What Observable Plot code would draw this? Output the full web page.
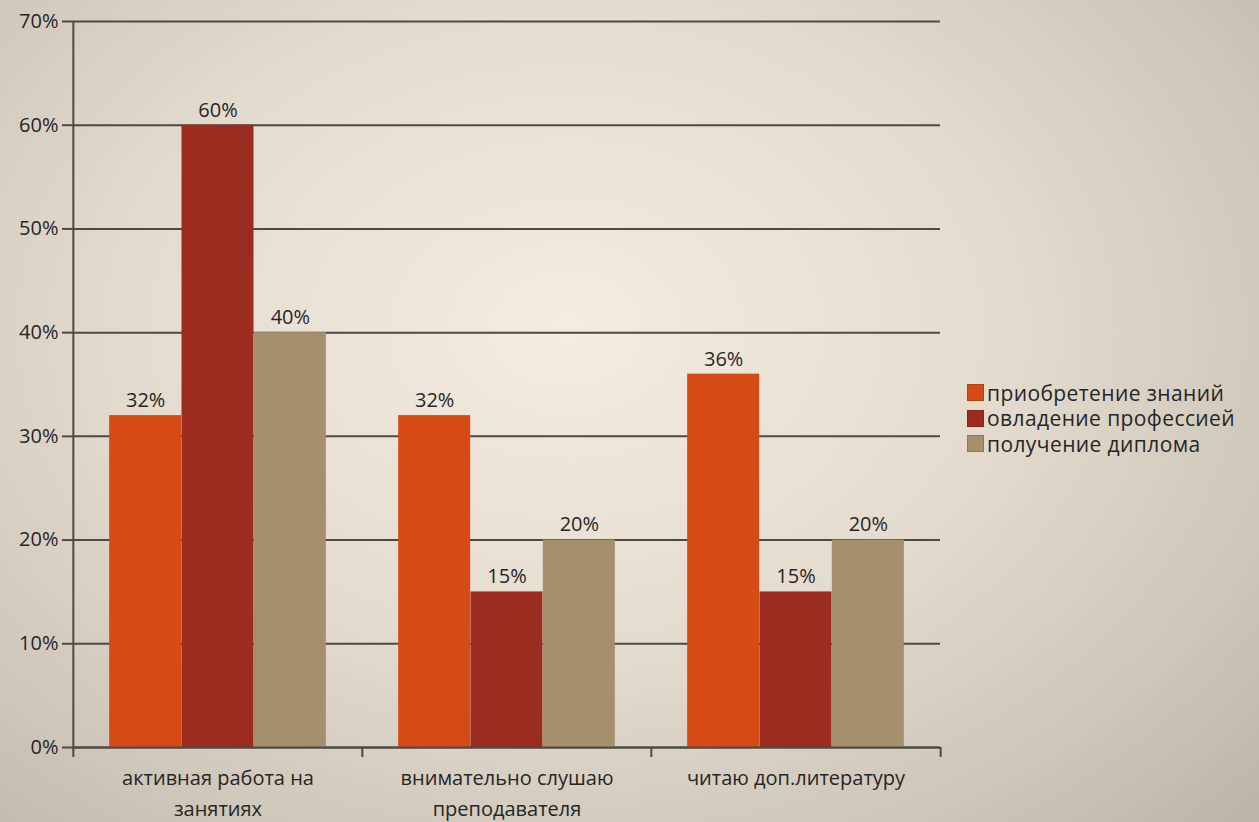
<!DOCTYPE html>
<html>
<head>
<meta charset="utf-8">
<script src="https://cdn.jsdelivr.net/npm/d3@7"></script>
<script src="https://cdn.jsdelivr.net/npm/@observablehq/plot@0.6"></script>
<style>
  html, body { margin: 0; padding: 0; width: 1259px; height: 822px; overflow: hidden; }
  body {
    background: radial-gradient(ellipse 75% 85% at 45% 40%, #f4ece0 0%, #e4dccf 45%, #cdc5b8 80%, #bdb5a8 100%);
    font-family: "Open Sans", sans-serif;
  }
  #wrap { position: relative; width: 1259px; height: 822px; }
  #chart { position: absolute; left: 0; top: 0; }
  #legend { position: absolute; left: 967px; top: 380px; }
  .row { display: flex; align-items: center; height: 25.5px; line-height: 24px; font-size: 21px; letter-spacing: 0.4px; color: #262626; white-space: nowrap; }
  .sw { width: 17px; height: 17px; margin-right: 3px; box-sizing: border-box; border: 1px solid rgba(0,0,0,0.15); flex: none; }
</style>
</head>
<body>
<div id="wrap"><div id="chart"></div><div id="legend"></div></div>
<script>
const categories = ["активная работа на\nзанятиях", "внимательно слушаю\nпреподавателя", "читаю доп.литературу"];
const series = ["приобретение знаний", "овладение профессией", "получение диплома"];
const knowledge = [0.32, 0.32, 0.36];
const profession = [0.60, 0.15, 0.15];
const diploma = [0.40, 0.20, 0.20];
const yTicks = [0, 0.1, 0.2, 0.3, 0.4, 0.5, 0.6, 0.7];
const colors = ["#d64a16", "#9c2c1f", "#a58f6c"];

const valuesBySeries = [knowledge, profession, diploma];
const data = series.flatMap((s, j) => categories.map((c, i) => ({category: c, series: s, value: valuesBySeries[j][i], j})));

const width = 945, height = 822;
const marginLeft = 72, marginRight = 5, marginTop = 21, marginBottom = 75;
const bw = (width - marginLeft - marginRight) / categories.length;
const fmt = d3.format(".0%");
const grid = "#4d4a46";
const fs = 20;

const marks = [
  Plot.ruleY(yTicks, {stroke: grid, strokeWidth: 2}),
];
series.forEach((s, j) => {
  const rows = data.filter(d => d.j === j);
  const insetLeft = bw * (1 / 8 + j / 4);
  const insetRight = bw * (1 - 1 / 8 - (j + 1) / 4);
  marks.push(Plot.barY(rows, {x: "category", y: "value", fill: colors[j], insetLeft, insetRight}));
  marks.push(Plot.text(rows, {x: "category", y: "value", text: d => fmt(d.value), dx: (insetLeft - insetRight) / 2, dy: -15, fill: "#262626", fontSize: fs}));
});
marks.push(
  Plot.ruleX([categories[0]], {dx: -bw / 2, stroke: grid, strokeWidth: 2}),
  Plot.ruleY([0], {stroke: grid, strokeWidth: 2}),
  Plot.axisY({ticks: yTicks, tickFormat: fmt, tickSize: 10, tickPadding: 4, stroke: grid, strokeWidth: 2, fontSize: fs, fill: "#262626"}),
  Plot.axisX({tickSize: 10, dx: -bw / 2, tickFormat: () => "", stroke: grid, strokeWidth: 2}),
  Plot.axisX([categories[categories.length - 1]], {tickSize: 10, dx: bw / 2, tickFormat: () => "", stroke: grid, strokeWidth: 2}),
  Plot.axisX({tickSize: 0, tickPadding: 15, lineHeight: 1.55, fontSize: fs, fill: "#262626"})
);

const chart = Plot.plot({
  width, height, marginLeft, marginRight, marginTop, marginBottom,
  style: {background: "transparent", fontFamily: "Open Sans, sans-serif", fontSize: fs + "px", color: "#262626"},
  x: {domain: categories, padding: 0, axis: null, label: null},
  y: {domain: [0, 0.7], axis: null, label: null},
  marks
});
document.getElementById("chart").appendChild(chart);

const legend = document.getElementById("legend");
series.forEach((s, j) => {
  const row = document.createElement("div");
  row.className = "row";
  const sw = document.createElement("span");
  sw.className = "sw";
  sw.style.background = colors[j];
  row.appendChild(sw);
  row.appendChild(document.createTextNode(s));
  legend.appendChild(row);
});
</script>
</body>
</html>
